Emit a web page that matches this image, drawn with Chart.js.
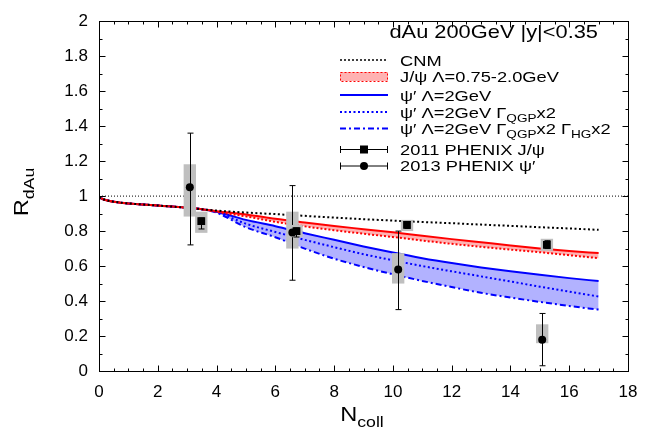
<!DOCTYPE html>
<html>
<head>
<meta charset="utf-8">
<script src="https://cdn.jsdelivr.net/npm/chart.js@4.4.0/dist/chart.umd.min.js"></script>
<style>
html, body { margin: 0; padding: 0; background: #fff; }
#wrap { width: 652px; height: 430px; }
</style>
</head>
<body>
<div id="wrap"><canvas id="rdau" width="652" height="430"></canvas></div>
<script>
// model curves, all on the same N_coll grid
var nGrid   = [0, 0.25, 0.5, 1, 1.5, 2, 2.5, 3, 3.5, 4, 5, 6, 7, 8, 9, 10, 11, 12, 13, 14, 15, 16, 17];
var cnm     = [0.992, 0.976, 0.968, 0.958, 0.952, 0.946, 0.940, 0.933, 0.925, 0.917, 0.906, 0.897, 0.887, 0.877, 0.868, 0.860, 0.852, 0.845, 0.837, 0.830, 0.822, 0.815, 0.807];
var jpsiHi  = [0.992, 0.976, 0.968, 0.958, 0.952, 0.946, 0.940, 0.933, 0.925, 0.913, 0.895, 0.870, 0.849, 0.829, 0.811, 0.793, 0.773, 0.754, 0.736, 0.718, 0.701, 0.686, 0.674];
var jpsiLo  = [0.992, 0.976, 0.968, 0.958, 0.952, 0.946, 0.940, 0.933, 0.925, 0.910, 0.884, 0.853, 0.827, 0.805, 0.785, 0.766, 0.746, 0.727, 0.710, 0.694, 0.679, 0.662, 0.645];
var psi2    = [0.992, 0.976, 0.968, 0.958, 0.952, 0.946, 0.940, 0.933, 0.925, 0.911, 0.864, 0.828, 0.788, 0.750, 0.712, 0.677, 0.645, 0.617, 0.592, 0.570, 0.550, 0.531, 0.514];
var psiQgp  = [0.992, 0.976, 0.968, 0.958, 0.952, 0.946, 0.940, 0.933, 0.925, 0.909, 0.842, 0.795, 0.750, 0.708, 0.668, 0.633, 0.600, 0.570, 0.541, 0.512, 0.482, 0.454, 0.426];
var psiHg   = [0.992, 0.976, 0.968, 0.958, 0.952, 0.946, 0.940, 0.933, 0.925, 0.905, 0.822, 0.765, 0.700, 0.642, 0.595, 0.553, 0.515, 0.480, 0.447, 0.420, 0.395, 0.372, 0.351];
var unityN  = [0, 18];
var unityR  = [1, 1];

// 2011 PHENIX J/psi
var jpsiN      = [3.48, 6.72, 10.48, 15.24];
var jpsiR      = [0.857, 0.800, 0.836, 0.721];
var jpsiStatLo = [0.812, 0.766, 0.815, 0.700];
var jpsiStatHi = [0.875, 0.818, 0.855, 0.745];
var jpsiSysLo  = [0.790, 0.765, 0.800, 0.687];
var jpsiSysHi  = [0.911, 0.835, 0.864, 0.756];

// 2013 PHENIX psi'
var psiN      = [3.09, 6.58, 10.18, 15.08];
var psiR      = [1.051, 0.792, 0.581, 0.179];
var psiStatLo = [0.721, 0.519, 0.351, 0.030];
var psiStatHi = [1.360, 1.060, 0.800, 0.329];
var psiSysLo  = [0.883, 0.700, 0.500, 0.159];
var psiSysHi  = [1.182, 0.911, 0.674, 0.267];

var xTicks = [0, 2, 4, 6, 8, 10, 12, 14, 16, 18];
var yTicks = [0, 0.2, 0.4, 0.6, 0.8, 1, 1.2, 1.4, 1.6, 1.8, 2];

var FONT = '"Liberation Sans", Arial, Helvetica, sans-serif';
var STRETCH = 1.18; // the original lettering is wider than Arial

function pts(xs, ys) {
    return xs.map(function(x, i) { return {x: x, y: ys[i]}; });
}

function curve(label, ys, color, dash, fill) {
    return {
        label: label,
        data: pts(nGrid, ys),
        borderColor: color,
        borderWidth: 2,
        borderDash: dash,
        pointRadius: 0,
        cubicInterpolationMode: 'monotone',
        fill: fill || false,
        backgroundColor: fill ? (color == '#ff0000' ? 'rgba(255,0,0,0.3)' : 'rgba(0,0,255,0.3)') : color
    };
}

// draws text pieces, [text, isSub], starting at x on baseline y, stretched sideways
function richText(ctx, x, y, parts, size, subSize, align) {
    var w = 0;
    parts.forEach(function(p) {
        ctx.font = (p[1] ? subSize : size) + 'px ' + FONT;
        w += ctx.measureText(p[0]).width;
    });
    w *= STRETCH;
    if (align == 'center') x -= w / 2;
    if (align == 'right') x -= w;
    ctx.save();
    ctx.translate(x, y);
    ctx.scale(STRETCH, 1);
    ctx.textAlign = 'left';
    ctx.textBaseline = 'alphabetic';
    var cx = 0;
    parts.forEach(function(p) {
        ctx.font = (p[1] ? subSize : size) + 'px ' + FONT;
        ctx.fillText(p[0], cx, p[1] ? size * 0.28 : 0);
        cx += ctx.measureText(p[0]).width;
    });
    ctx.restore();
}

function errorBars(ctx, xs, ys, xsc, ysc, lo, hi, sysLo, sysHi) {
    ctx.save();
    ctx.fillStyle = '#bfbfbf';
    xs.forEach(function(n, i) {
        var l = xsc.getPixelForValue(n - 0.21), r = xsc.getPixelForValue(n + 0.21);
        var t = ysc.getPixelForValue(sysHi[i]), b = ysc.getPixelForValue(sysLo[i]);
        ctx.fillRect(l, t, r - l, b - t);
    });
    ctx.strokeStyle = '#000';
    ctx.lineWidth = 1;
    xs.forEach(function(n, i) {
        var px = Math.round(xsc.getPixelForValue(n)) + 0.5;
        var t = ysc.getPixelForValue(hi[i]), b = ysc.getPixelForValue(lo[i]);
        ctx.beginPath();
        ctx.moveTo(px, t); ctx.lineTo(px, b);
        ctx.moveTo(px - 3, t); ctx.lineTo(px + 3, t);
        ctx.moveTo(px - 3, b); ctx.lineTo(px + 3, b);
        ctx.stroke();
    });
    ctx.restore();
}

var dataPlugin = {
    id: 'sysBoxes',
    beforeDatasetDraw: function(chart, args) {
        if (args.index != 1) return;
        var ctx = chart.ctx, xs = chart.scales.x, ys = chart.scales.y;
        errorBars(ctx, psiN, psiR, xs, ys, psiStatLo, psiStatHi, psiSysLo, psiSysHi);
        errorBars(ctx, jpsiN, jpsiR, xs, ys, jpsiStatLo, jpsiStatHi, jpsiSysLo, jpsiSysHi);
    }
};

var framePlugin = {
    id: 'frame',
    afterDraw: function(chart) {
        var ctx = chart.ctx, a = chart.chartArea, xs = chart.scales.x, ys = chart.scales.y;
        ctx.save();
        ctx.strokeStyle = '#000';
        ctx.lineWidth = 1;
        var L = Math.round(a.left) + 0.5, R = Math.round(a.right) + 0.5;
        var T = Math.round(a.top) + 0.5, B = Math.round(a.bottom) + 0.5;
        ctx.strokeRect(L, T, R - L, B - T);
        ctx.beginPath();
        var v, p, len;
        for (v = 0; v <= 18.001; v += 0.5) {
            p = Math.round(xs.getPixelForValue(v)) + 0.5;
            len = (Math.abs(v / 2 - Math.round(v / 2)) < 0.01) ? 6 : 3;
            ctx.moveTo(p, B); ctx.lineTo(p, B - len);
            ctx.moveTo(p, T); ctx.lineTo(p, T + len);
        }
        for (v = 0; v <= 2.0001; v += 0.1) {
            p = Math.round(ys.getPixelForValue(v)) + 0.5;
            len = (Math.abs(v * 5 - Math.round(v * 5)) < 0.01) ? 6 : 3;
            ctx.moveTo(L, p); ctx.lineTo(L + len, p);
            ctx.moveTo(R, p); ctx.lineTo(R - len, p);
        }
        ctx.stroke();

        // axis titles
        ctx.fillStyle = '#000';
        richText(ctx, 362, 421, [['N', false], ['coll', true]], 20, 15, 'center');
        ctx.save();
        ctx.translate(28, 192);
        ctx.rotate(-Math.PI / 2);
        richText(ctx, 0, 0, [['R', false], ['dAu', true]], 20, 15, 'center');
        ctx.restore();

        // legend
        richText(ctx, 598, 38, [['dAu 200GeV |y|<0.35', false]], 18.5, 13, 'right');

        var x0 = 340, x1 = 388, tx = 400;
        function line(y, color, dash, w) {
            ctx.save();
            ctx.strokeStyle = color;
            ctx.lineWidth = w;
            ctx.setLineDash(dash);
            ctx.beginPath();
            ctx.moveTo(x0, y); ctx.lineTo(x1, y);
            ctx.stroke();
            ctx.restore();
        }
        function label(y, parts) {
            ctx.fillStyle = '#000';
            richText(ctx, tx, y + 5.5, parts, 15.5, 11.5, 'left');
        }
        line(60, '#000', [2, 2], 1.5);
        label(60, [['CNM', false]]);

        ctx.save();
        ctx.fillStyle = 'rgba(255,0,0,0.3)';
        ctx.fillRect(x0, 72, x1 - x0, 9);
        ctx.strokeStyle = '#ff0000';
        ctx.lineWidth = 1;
        ctx.setLineDash([2, 2]);
        ctx.strokeRect(x0 + 0.5, 72.5, x1 - x0 - 1, 9);
        ctx.restore();
        label(76.5, [['J/\u03c8 \u039b=0.75-2.0GeV', false]]);

        line(95, '#0000ff', [], 2);
        label(95, [['\u03c8\u2032 \u039b=2GeV', false]]);
        line(112, '#0000ff', [2, 2.5], 2);
        label(112, [['\u03c8\u2032 \u039b=2GeV \u0393', false], ['QGP', true], ['x2', false]]);
        line(128.5, '#0000ff', [6, 3, 2, 3], 2);
        label(128.5, [['\u03c8\u2032 \u039b=2GeV \u0393', false], ['QGP', true], ['x2 \u0393', false], ['HG', true], ['x2', false]]);

        function ebar(y, style) {
            ctx.save();
            ctx.strokeStyle = '#000';
            ctx.lineWidth = 1;
            ctx.beginPath();
            ctx.moveTo(x0, y + 0.5); ctx.lineTo(x1, y + 0.5);
            ctx.moveTo(x0 + 0.5, y - 3); ctx.lineTo(x0 + 0.5, y + 4);
            ctx.moveTo(x1 - 0.5, y - 3); ctx.lineTo(x1 - 0.5, y + 4);
            ctx.stroke();
            ctx.fillStyle = '#000';
            if (style == 'rect') {
                ctx.fillRect(364 - 4, y - 3.5, 8, 8);
            } else {
                ctx.beginPath();
                ctx.arc(364, y + 0.5, 4, 0, Math.PI * 2);
                ctx.fill();
            }
            ctx.restore();
        }
        ebar(149, 'rect');
        label(149, [['2011 PHENIX J/\u03c8', false]]);
        ebar(165.5, 'circle');
        label(165.5, [['2013 PHENIX \u03c8\u2032', false]]);
        ctx.restore();
    }
};

var ctx = document.getElementById('rdau');

new Chart(ctx, {
    type: 'line',
    data: {
        datasets: [
            {
                label: '2013 PHENIX psi\'',
                data: pts(psiN, psiR),
                showLine: false,
                pointStyle: 'circle',
                pointRadius: 4,
                backgroundColor: '#000',
                borderColor: '#000',
                borderWidth: 0
            },
            {
                label: '2011 PHENIX J/psi',
                data: pts(jpsiN, jpsiR),
                showLine: false,
                pointStyle: 'rect',
                pointRadius: 5.5,
                backgroundColor: '#000',
                borderColor: '#000',
                borderWidth: 0
            },
            curve('CNM', cnm, '#000000', [2, 2.5]),
            curve('J/psi 2.0GeV', jpsiHi, '#ff0000', [], '+1'),
            curve('J/psi 0.75GeV', jpsiLo, '#ff0000', [2, 2]),
            curve('psi\' 2GeV', psi2, '#0000ff', [], '+2'),
            curve('psi\' QGPx2', psiQgp, '#0000ff', [2, 2.5]),
            curve('psi\' QGPx2 HGx2', psiHg, '#0000ff', [6, 3, 2, 3]),
            {
                label: 'unity',
                data: pts(unityN, unityR),
                borderColor: '#000',
                borderWidth: 1,
                borderDash: [1, 2],
                pointRadius: 0,
                fill: false
            }
        ]
    },
    options: {
        responsive: false,
        animation: false,
        devicePixelRatio: 1,
        layout: {
            padding: {left: 0, right: 24, top: 14, bottom: 0}
        },
        scales: {
            x: {
                type: 'linear',
                min: 0,
                max: 18,
                afterFit: function(s) { s.height = 59; },
                afterBuildTicks: function(s) { s.ticks = xTicks.map(function(v) { return {value: v}; }); },
                grid: {display: false, drawTicks: false},
                border: {display: false},
                ticks: {
                    padding: 11,
                    color: '#000',
                    font: {family: FONT, size: 17},
                    maxRotation: 0,
                    callback: function(v) { return String(v); }
                }
            },
            y: {
                type: 'linear',
                min: 0,
                max: 2,
                afterFit: function(s) { s.width = 99; },
                afterBuildTicks: function(s) { s.ticks = yTicks.map(function(v) { return {value: v}; }); },
                grid: {display: false, drawTicks: false},
                border: {display: false},
                ticks: {
                    padding: 11,
                    color: '#000',
                    font: {family: FONT, size: 17},
                    callback: function(v) { return String(Math.round(v * 10) / 10); }
                }
            }
        },
        plugins: {
            legend: {display: false},
            tooltip: {enabled: false},
            filler: {drawTime: 'beforeDatasetsDraw'}
        }
    },
    plugins: [dataPlugin, framePlugin]
});
</script>
</body>
</html>
